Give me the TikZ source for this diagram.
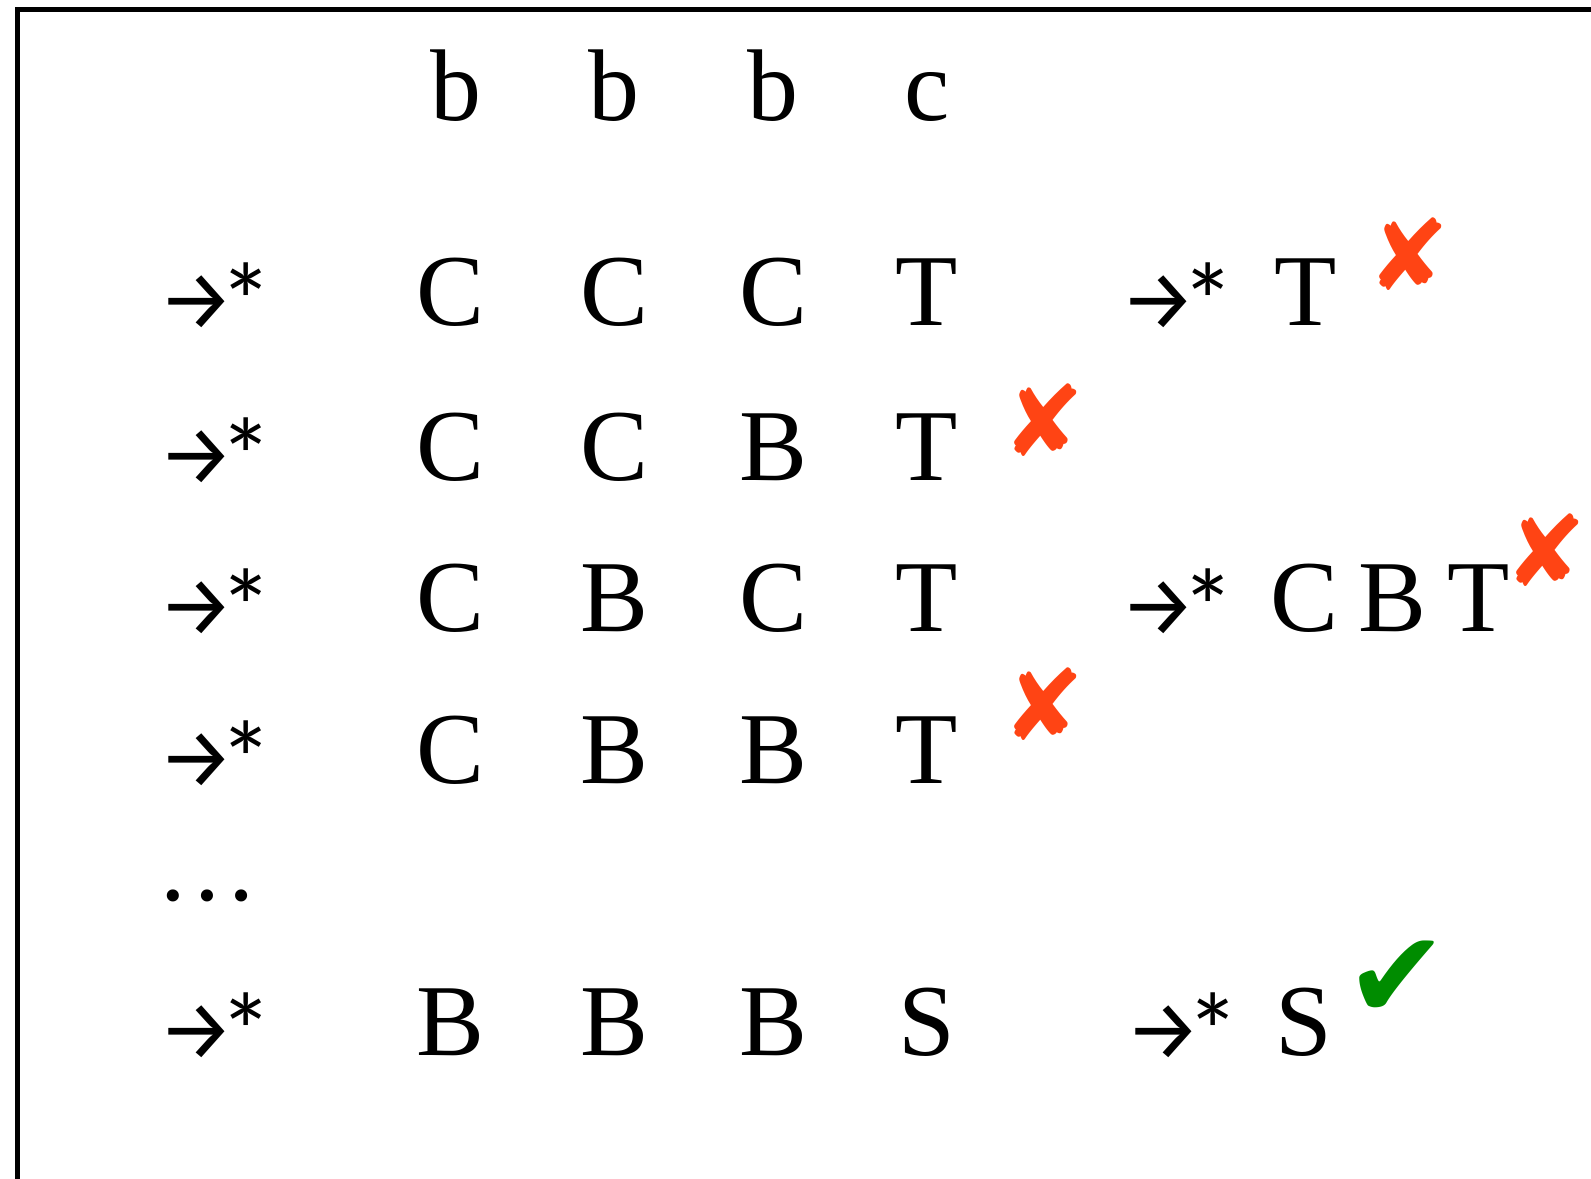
\documentclass[tikz,border=0pt]{standalone}
\usepackage{fontspec}
\setmainfont{Liberation Serif}
\newfontfamily\symfont{DejaVu Sans}
\newfontfamily\arrowfont{Fira Sans}
\newfontfamily\starfont{Lato}
\usetikzlibrary{positioning}

\definecolor{wrongred}{RGB}{255,68,20}
\definecolor{okgreen}{RGB}{0,140,0}

% arrow with star, as in "derives in many steps"
\newcommand{\derives}{\raisebox{-0.04em}{\arrowfont\fontsize{48}{48}\selectfont →}\kern-6pt{\starfont\raisebox{-0.14em}{*}}}

\begin{document}
\begin{tikzpicture}[x=0.02cm,y=-0.02cm,
    sym/.style={anchor=base,inner sep=0pt,font=\fontsize{58}{70}\selectfont},
    derive/.style={sym},
    cross/.style={anchor=center,inner sep=0pt,text=wrongred,font=\symfont\fontsize{56}{56}\selectfont},
    tick/.style={anchor=center,inner sep=0pt,text=okgreen,font=\symfont\fontsize{70}{70}\selectfont}]

\useasboundingbox (0,0) rectangle (1591,1178);
\clip (0,0) rectangle (1591,1178);
\draw[line width=3pt] (17.5,9.5) rectangle (1700,1300);

% the input word
\node[sym] (b1) at (456,120) {b};
\node[sym] (b2) at (614,120) {b};
\node[sym] (b3) at (773,120) {b};
\node[sym] (c4) at (927,120) {c};

% first row
\node[derive] (d1) at (213,325) {\derives};
\node[sym] (r11) at (450,325) {C};
\node[sym] (r12) at (614,325) {C};
\node[sym] (r13) at (773,325) {C};
\node[sym] (r14) at (927,325) {T};
\node[derive] (e1) at (1175,325) {\derives};
\node[sym] (s1) at (1306,325) {T};
\node[cross] (x1) at (1409,254) {✘};

% second row
\node[derive] (d2) at (213,480) {\derives};
\node[sym] (r21) at (450,480) {C};
\node[sym] (r22) at (614,480) {C};
\node[sym] (r23) at (773,480) {B};
\node[sym] (r24) at (927,480) {T};
\node[cross] (x2) at (1044,420) {✘};

% third row
\node[derive] (d3) at (213,631) {\derives};
\node[sym] (r31) at (450,631) {C};
\node[sym] (r32) at (614,631) {B};
\node[sym] (r33) at (773,631) {C};
\node[sym] (r34) at (927,631) {T};
\node[derive] (e3) at (1175,631) {\derives};
\node[sym] (s3) at (1390,631) {\spaceskip=.2em C B T};
\node[cross] (x3) at (1546,550) {✘};

% fourth row
\node[derive] (d4) at (213,783) {\derives};
\node[sym] (r41) at (450,783) {C};
\node[sym] (r42) at (614,783) {B};
\node[sym] (r43) at (773,783) {B};
\node[sym] (r44) at (927,783) {T};
\node[cross] (x4) at (1044,704) {✘};

\node[sym] (dots) at (207,900) {…};

% last row
\node[derive] (d6) at (213,1055) {\derives};
\node[sym] (r61) at (450,1055) {B};
\node[sym] (r62) at (614,1055) {B};
\node[sym] (r63) at (773,1055) {B};
\node[sym] (r64) at (927,1055) {S};
\node[derive] (e6) at (1180,1055) {\derives};
\node[sym] (s6) at (1304,1055) {S};
\node[tick] (ok) at (1397,980) {✔};
\end{tikzpicture}
\end{document}
